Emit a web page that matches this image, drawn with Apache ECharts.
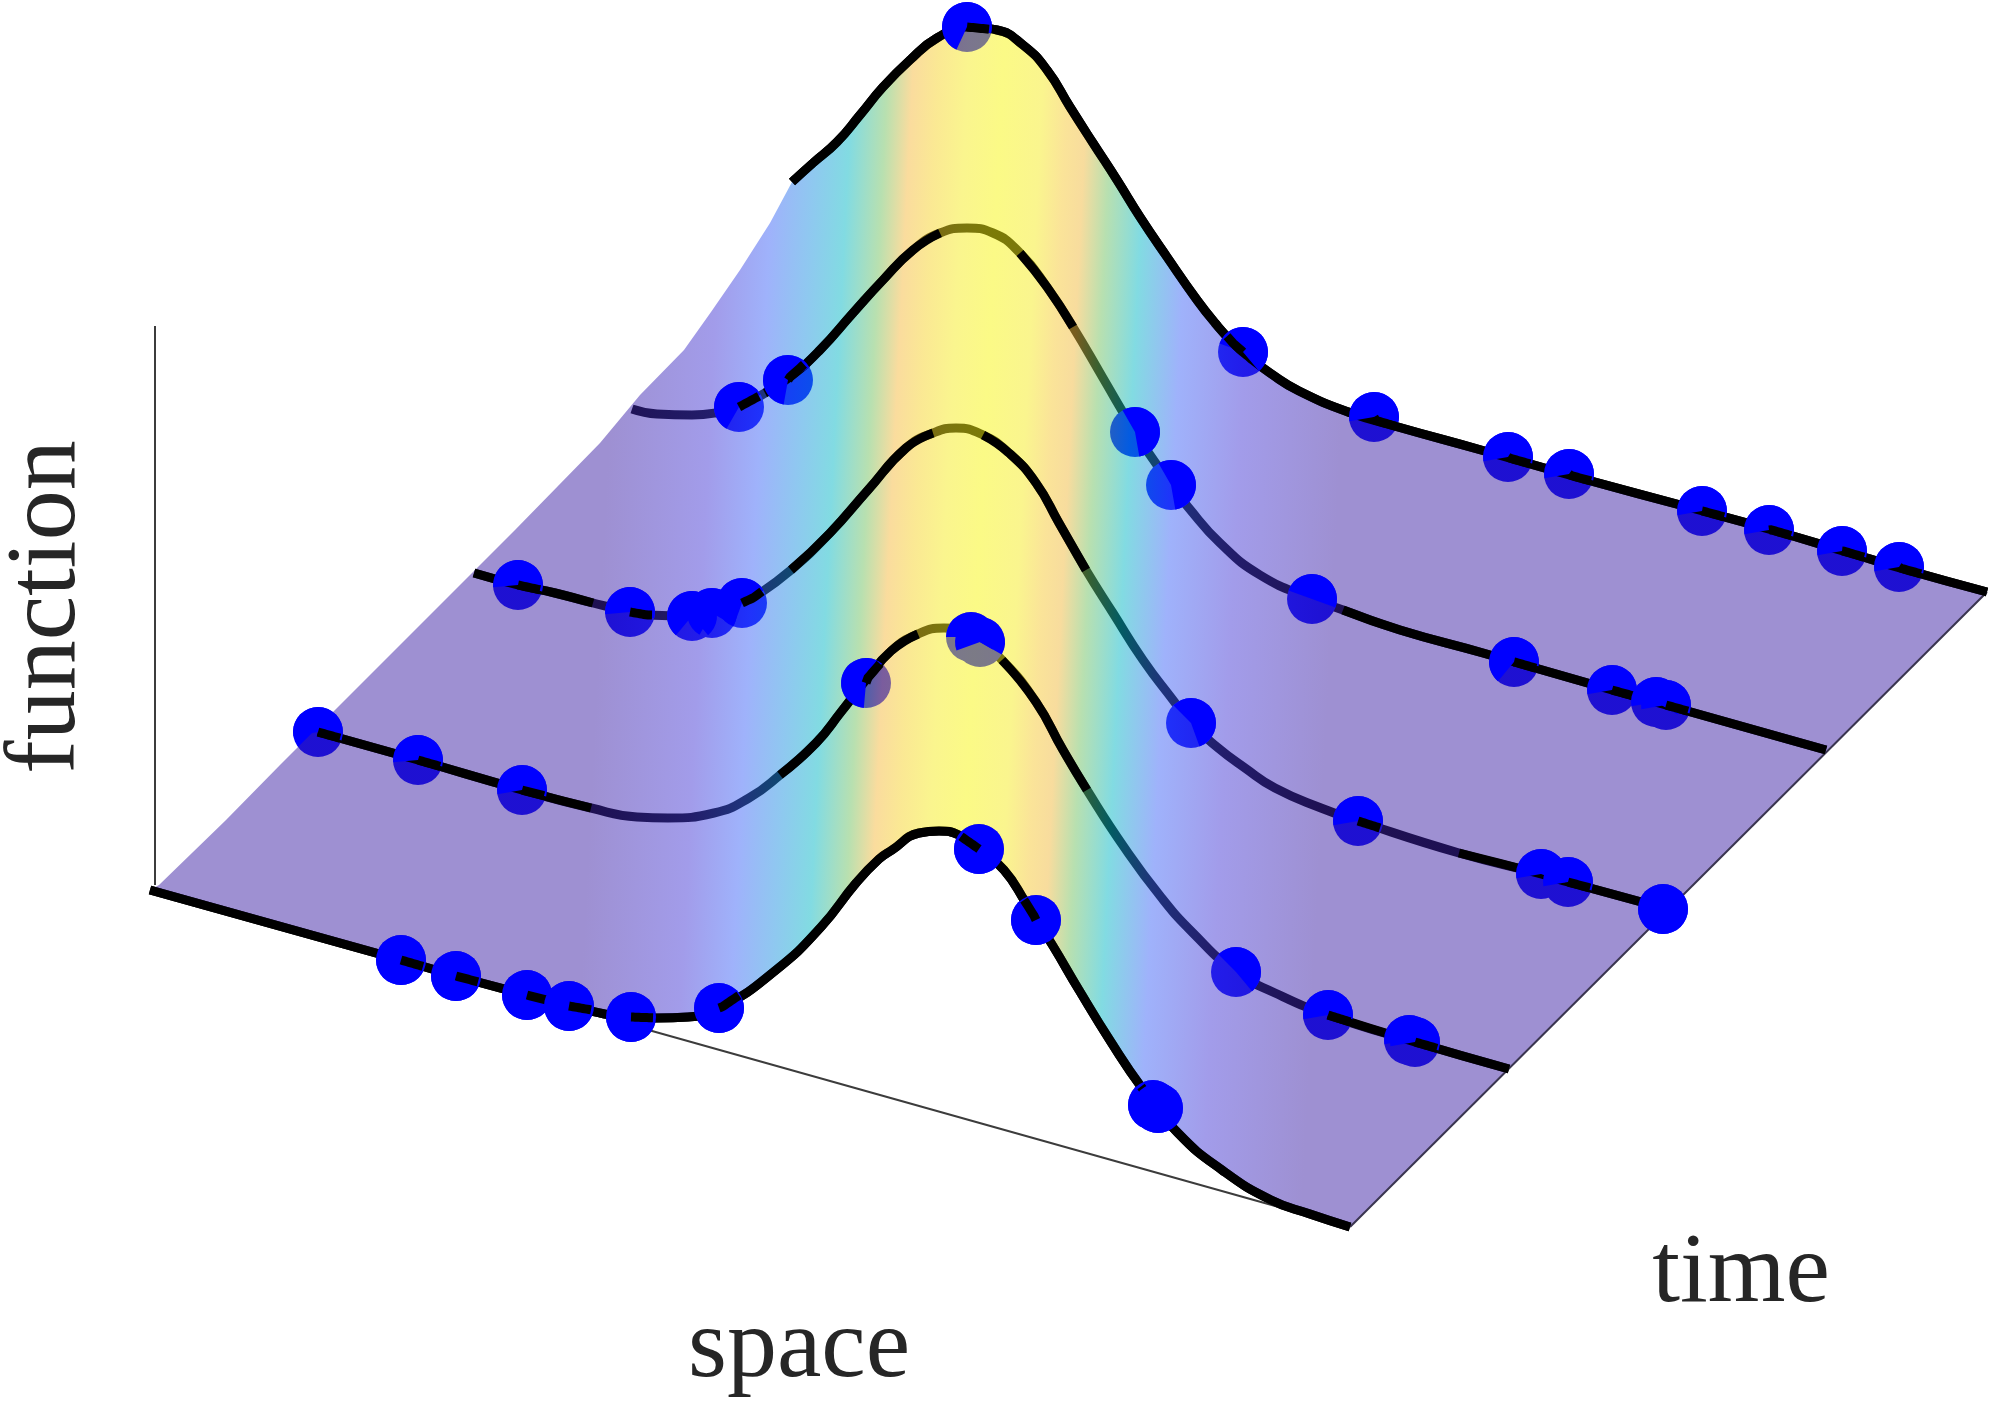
<!DOCTYPE html>
<html>
<head>
    <meta charset="utf-8">
    <title>function over space and time</title>
    <style>
        html, body { margin: 0; padding: 0; background: #fff; }
        #chart { width: 1991px; height: 1401px; }
    </style>
    <script src="https://cdn.jsdelivr.net/npm/echarts@6/dist/echarts.min.js"></script>
</head>
<body>
<div id="chart"></div>
<script>
    // the picture is a projected 3D surface, all values are read in projected units
    var lineX100 = [792, 813, 837, 860, 883, 910, 937, 967, 997, 1023, 1047, 1070, 1093, 1117, 1140, 1167, 1197, 1215, 1233, 1250, 1270, 1299, 1351, 1398, 1481, 1580, 1699, 1772, 1850, 1907, 1987];
    var lineY100 = [182, 163, 142, 115, 87, 60, 38, 27, 30, 45, 70, 107, 143, 180, 217, 257, 300, 323, 343, 358, 373, 391, 413, 427, 450, 478, 510, 530, 553, 570, 592];
    var lineX75 = [632, 657, 692, 715, 739, 765, 790, 820, 853, 883, 913, 940, 967, 993, 1020, 1047, 1073, 1103, 1135, 1171, 1188, 1220, 1260, 1312, 1343, 1400, 1483, 1612, 1666, 1826];
    var lineY75 = [409, 414, 415, 413, 407, 393, 377, 350, 313, 280, 250, 233, 228, 233, 253, 287, 327, 378, 432, 485, 507, 543, 575, 599, 610, 630, 653, 690, 705, 750];
    var lineX50 = [474, 518, 555, 593, 630, 647, 692, 712, 742, 753, 791, 830, 868, 906, 933, 956, 983, 1009, 1036, 1059, 1086, 1113, 1143, 1173, 1191, 1217, 1245, 1275, 1321, 1358, 1459, 1541, 1568, 1667];
    var lineY50 = [573, 585, 593, 603, 612, 615, 616, 613, 603, 598, 570, 533, 490, 448, 433, 428, 435, 453, 483, 523, 570, 613, 660, 700, 723, 747, 768, 788, 808, 821, 853, 874, 882, 909];
    var lineX25 = [318, 418, 522, 591, 637, 668, 714, 749, 780, 816, 841, 866, 891, 918, 944, 971, 1002, 1036, 1063, 1087, 1124, 1161, 1193, 1236, 1275, 1328, 1415, 1509];
    var lineY25 = [732, 760, 790, 808, 817, 818, 813, 798, 775, 743, 712, 680, 651, 634, 628, 635, 660, 702, 750, 790, 847, 897, 933, 972, 993, 1015, 1042, 1069];
    var lineX0 = [150, 401, 456, 527, 569, 631, 657, 688, 722, 776, 821, 856, 879, 892, 919, 939, 959, 979, 1004, 1026, 1053, 1079, 1111, 1142, 1178, 1222, 1271, 1310, 1350];
    var lineY0 = [890, 960, 976, 995, 1006, 1017, 1018, 1017, 1007, 970, 927, 883, 859, 850, 833, 831, 835, 849, 870, 903, 946, 990, 1042, 1088, 1133, 1170, 1200, 1214, 1227];

    // left outline of the surface, from the front corner up to the back curve
    var edgeX = [159, 226, 280, 425, 515, 600, 640, 684, 711, 740, 770];
    var edgeY = [885, 820, 765, 620, 530, 443, 395, 350, 312, 270, 223];

    // samples on each curve
    var dots100 = [[967, 27], [1243, 352], [1374, 417], [1508, 457], [1569, 474], [1702, 511], [1769, 530], [1842, 551], [1899, 567]];
    var dots75 = [[739, 407], [788, 380], [1135, 432], [1171, 485], [1312, 599], [1514, 662], [1612, 690], [1656, 702], [1666, 705]];
    var dots50 = [[518, 585], [630, 612], [692, 616], [712, 613], [742, 603], [1191, 723], [1358, 821], [1541, 874], [1568, 882], [1663, 909]];
    var dots25 = [[318, 732], [418, 760], [522, 790], [866, 683], [971, 637], [980, 642], [1236, 972], [1328, 1015], [1409, 1040], [1415, 1042]];
    var dots0 = [[401, 960], [456, 976], [527, 995], [569, 1006], [631, 1017], [719, 1008], [979, 849], [1036, 920], [1153, 1105], [1158, 1108]];

    // which side of the dot the curve runs over it: 1 right, -1 left, 0 none
    var stub100 = [1, -1, 1, 1, 1, 1, 1, 1, 1];
    var stub75 = [1, 1, 0, 0, 0, 1, 1, 0, 1];
    var stub50 = [1, 1, 0, 0, 1, 0, 1, 0, 1, 0];
    var stub25 = [1, 1, 1, 1, 0, 0, 0, 1, 0, 1];
    var stub0 = [1, 1, 1, 1, 1, 1, -1, -1, -1, 0];

    // wedge of each dot that sits below the surface, degrees clockwise from +x
    var wedge100 = [[15, 115], [50, 200], [10, 170], [15, 170], [15, 170], [15, 170], [15, 170], [15, 170], [15, 170]];
    var wedge75 = [[-30, 120], [-30, 100], [80, 240], [80, 240], [20, 200], [10, 130], [20, 170], [30, 170], [20, 170]];
    var wedge50 = [[15, 175], [15, 175], [50, 130], [30, 120], [-30, 110], [70, 225], [10, 170], [20, 170], [20, 170], [0, 0]];
    var wedge25 = [[20, 170], [15, 175], [15, 170], [-50, 95], [30, 180], [30, 160], [50, 225], [10, 170], [20, 170], [20, 170]];
    var wedge0 = [[0, 0], [0, 0], [0, 0], [0, 0], [0, 0], [0, 0], [0, 0], [0, 0], [0, 0], [0, 0]];

    // parts of each curve lying above the surface
    var above100 = [[790, 1990]];
    var above75 = [[760, 945], [995, 1095], [1343, 1830]];
    var above50 = [[474, 600], [770, 940], [975, 1086], [1360, 1670]];
    var above25 = [[318, 595], [760, 925], [985, 1087], [1320, 1510]];
    var above0 = [[150, 1350]];

    // surface colour bands
    var bandX = [300, 600, 700, 750, 790, 825, 860, 885, 910, 940, 975, 1015, 1040, 1060, 1085, 1120, 1165, 1230, 1330, 1500];
    var bandColor = ['rgb(61,33,165)', 'rgb(61,33,165)', 'rgb(69,57,213)', 'rgb(63,101,247)', 'rgb(31,145,225)', 'rgb(5,183,197)', 'rgb(113,193,97)', 'rgb(245,185,60)', 'rgb(246,210,40)', 'rgb(245,235,29)', 'rgb(247,245,13)', 'rgb(245,235,29)', 'rgb(246,200,50)', 'rgb(240,185,60)', 'rgb(113,193,97)', 'rgb(5,183,197)', 'rgb(63,101,247)', 'rgb(69,57,213)', 'rgb(61,33,165)', 'rgb(61,33,165)'];

    var axisTop = [[155, 326], [155, 885]];
    var axisSpace = [[150, 890], [1350, 1227]];
    var axisTime = [[1350, 1227], [1987, 592]];

    var DOT_R = 25;
    var LINE_W = 9;

    function zip(xs, ys) {
        return xs.map(function (x, i) {
            return [x, ys[i]];
        });
    }

    var slices = [
        {x: lineX100, y: lineY100, dots: dots100, stub: stub100, wedge: wedge100, above: above100},
        {x: lineX75, y: lineY75, dots: dots75, stub: stub75, wedge: wedge75, above: above75},
        {x: lineX50, y: lineY50, dots: dots50, stub: stub50, wedge: wedge50, above: above50},
        {x: lineX25, y: lineY25, dots: dots25, stub: stub25, wedge: wedge25, above: above25},
        {x: lineX0, y: lineY0, dots: dots0, stub: stub0, wedge: wedge0, above: above0}
    ];

    function curveY(s, x) {
        for (var i = 1; i < s.x.length; i++) {
            if (x <= s.x[i]) {
                var k = (x - s.x[i - 1]) / (s.x[i] - s.x[i - 1]);
                return s.y[i - 1] + k * (s.y[i] - s.y[i - 1]);
            }
        }
        return s.y[s.y.length - 1];
    }

    // short piece of the curve from the dot centre to the dot rim
    function stubPoints(s, dot, dir) {
        var pts = [dot];
        for (var dx = 2; dx <= DOT_R; dx += 2) {
            var p = [dot[0] + dir * dx, curveY(s, dot[0] + dir * dx)];
            if (Math.hypot(p[0] - dot[0], p[1] - dot[1]) > DOT_R - 1) break;
            pts.push(p);
        }
        return pts;
    }

    var series = [];

    // everything below the surface first, it gets tinted by the surface
    slices.forEach(function (s) {
        series.push({
            type: 'line', z: 1, silent: true, showSymbol: false, smooth: 0.5,
            data: zip(s.x, s.y),
            lineStyle: {color: '#000', width: LINE_W, cap: 'butt'}
        });
        series.push({
            type: 'scatter', z: 1, silent: true, symbolSize: DOT_R * 2,
            data: s.dots,
            itemStyle: {color: '#0000ff', opacity: 1}
        });
    });

    var outline = zip(lineX100, lineY100)
        .concat(zip(lineX0, lineY0).reverse())
        .concat(zip(edgeX, edgeY));

    series.push({
        type: 'custom', z: 2, silent: true, clip: false,
        data: [[0, 0]],
        renderItem: function (params, api) {
            var a = api.coord([bandX[0], 600]);
            var span = bandX[bandX.length - 1] - bandX[0];
            var b = api.coord([bandX[bandX.length - 1], 600 + span * 0.05]);
            var stops = bandX.map(function (x, i) {
                return {offset: (x - bandX[0]) / span, color: bandColor[i]};
            });
            return {
                type: 'polygon',
                shape: {points: outline.map(function (p) { return api.coord(p); })},
                style: {
                    fill: new echarts.graphic.LinearGradient(a[0], a[1], b[0], b[1], stops, true),
                    opacity: 0.5
                }
            };
        }
    });

    [axisTop, axisSpace, axisTime].forEach(function (a, i) {
        series.push({
            type: 'line', z: 3, silent: true, showSymbol: false,
            data: a,
            lineStyle: {color: i === 2 ? '#3a3550' : '#3c3c3c', width: 2}
        });
    });

    slices.forEach(function (s) {
        series.push({
            type: 'line', z: 3, silent: true, showSymbol: false, smooth: 0.5,
            data: zip(s.x, s.y).map(function (p) {
                var on = s.above.some(function (r) {
                    return p[0] >= r[0] && p[0] <= r[1];
                });
                return on ? p : [p[0], null];
            }),
            lineStyle: {color: '#000', width: LINE_W, cap: 'butt'}
        });
    });

    // part of each dot above the surface, plus the curve crossing it
    slices.forEach(function (s) {
        series.push({
            type: 'custom', z: 4, silent: true, clip: false,
            data: s.dots,
            renderItem: function (params, api) {
                var i = params.dataIndex;
                var c = api.coord(s.dots[i]);
                var w = s.wedge[i];
                var from = (w[1]) * Math.PI / 180;
                var to = (w[0] === w[1] ? w[1] + 360 : w[0] + 360) * Math.PI / 180;
                var kids = [{
                    type: 'sector',
                    shape: {cx: c[0], cy: c[1], r0: 0, r: DOT_R, startAngle: from, endAngle: to, clockwise: true},
                    style: {fill: '#0000ff'}
                }];
                if (s.stub[i] !== 0) {
                    kids.push({
                        type: 'polyline',
                        shape: {points: stubPoints(s, s.dots[i], s.stub[i]).map(function (p) { return api.coord(p); })},
                        style: {stroke: '#000', lineWidth: LINE_W, fill: null}
                    });
                }
                return {type: 'group', children: kids};
            }
        });
    });

    var chart = echarts.init(document.getElementById('chart'));
    chart.setOption({
        animation: false,
        backgroundColor: '#fff',
        grid: {left: 0, right: 0, top: 0, bottom: 0},
        xAxis: {type: 'value', min: 0, max: 1991, show: false},
        yAxis: {type: 'value', min: 0, max: 1401, inverse: true, show: false},
        graphic: [
            {type: 'text', x: 48, y: 607, rotation: Math.PI / 2, z: 10,
                style: {text: 'function', font: '100px "Liberation Serif"', fill: '#262626', align: 'center', verticalAlign: 'middle'}},
            {type: 'text', x: 799, y: 1350, z: 10,
                style: {text: 'space', font: '100px "Liberation Serif"', fill: '#262626', align: 'center', verticalAlign: 'middle'}},
            {type: 'text', x: 1741, y: 1275, z: 10,
                style: {text: 'time', font: '100px "Liberation Serif"', fill: '#262626', align: 'center', verticalAlign: 'middle'}}
        ],
        series: series
    });
</script>
</body>
</html>
